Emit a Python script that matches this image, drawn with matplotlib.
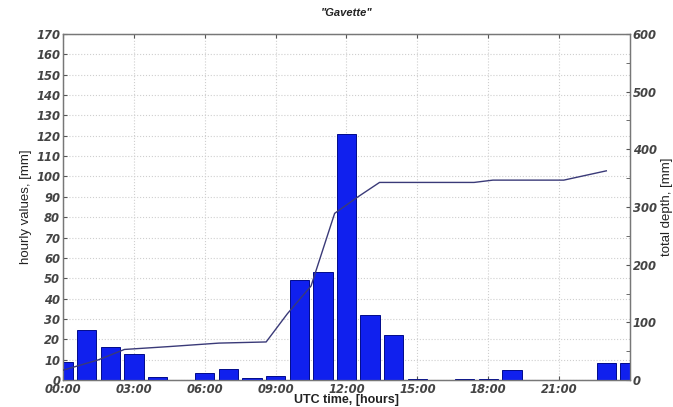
import matplotlib
matplotlib.use("Agg")
import matplotlib.pyplot as plt
from matplotlib.ticker import MultipleLocator

# Data
hours = list(range(25))
hourly_mm = [9, 24.5, 16, 13, 1.5, 0, 3.5, 5.4, 1, 1.8, 49, 53, 121, 32, 22,
             0.3, 0, 0.3, 0.3, 5, 0, 0, 0, 8.5, 8.5]
cum_x = [0, 1.5, 2.6, 4.5, 6.6, 8.6, 9.5, 10.5, 11.5, 12.5, 13.4, 17.4, 18.2, 21.2, 23.0]
cum_mm = [17, 35, 53, 58, 64, 66, 115, 163, 289, 318, 342.6, 342.6, 346.6, 346.6, 362.7]
xtick_pos = [0, 3, 6, 9, 12, 15, 18, 21]
xtick_labels = ["00:00", "03:00", "06:00", "09:00", "12:00", "15:00", "18:00", "21:00"]
title = '"Gavette"'

plt.rcParams['font.family'] = ['Liberation Sans', 'DejaVu Sans']
tick_font = dict(family='DejaVu Sans', style='oblique', weight='bold', size=8.3)

fig = plt.figure(figsize=(6.73, 4.07), dpi=100)
ax = fig.add_axes([0.0936, 0.0663, 0.8424, 0.8502])
ax.bar(hours, hourly_mm, width=0.82, color='#1020ee', edgecolor='#000a8a',
       linewidth=0.7, zorder=3)
ax.set_xlim(0, 24)
ax.set_ylim(0, 170)
ax.yaxis.set_major_locator(MultipleLocator(10))
ax.set_xticks(xtick_pos)
ax.set_xticklabels(xtick_labels)
ax.grid(True, linestyle=':', color='#cfcfcf', linewidth=0.8, zorder=0)
ax.tick_params(direction='in', length=3, top=True, colors='#555555', pad=2)
for lab in ax.get_xticklabels() + ax.get_yticklabels():
    lab.set_fontproperties(tick_font)
    lab.set_color('#444444')
for s in ax.spines.values():
    s.set_color('#777777')
    s.set_linewidth(0.9)
ax.set_ylabel('hourly values, [mm]', fontsize=9.5, labelpad=3, color='#222222')
ax.set_xlabel('UTC time, [hours]', fontsize=9, fontweight='bold', labelpad=-1,
              color='#222222')

ax2 = ax.twinx()
ax2.plot(cum_x, cum_mm, color='#3a3a78', linewidth=1.0, zorder=4)
ax2.set_ylim(0, 600)
ax2.yaxis.set_major_locator(MultipleLocator(100))
ax2.yaxis.set_minor_locator(MultipleLocator(50))
ax2.tick_params(axis='y', direction='in', length=3, which='both', colors='#555555',
                pad=2)
for lab in ax2.get_yticklabels():
    lab.set_fontproperties(tick_font)
    lab.set_color('#444444')
for s in ax2.spines.values():
    s.set_color('#777777')
    s.set_linewidth(0.9)
ax2.set_ylabel('total depth, [mm]', fontsize=9.5, labelpad=3, color='#222222')

fig.text(0.515, 0.968, title, ha='center', va='center', fontsize=8,
         fontstyle='italic', fontweight='bold', color='#222222')

fig.savefig('out.png', dpi=100)
